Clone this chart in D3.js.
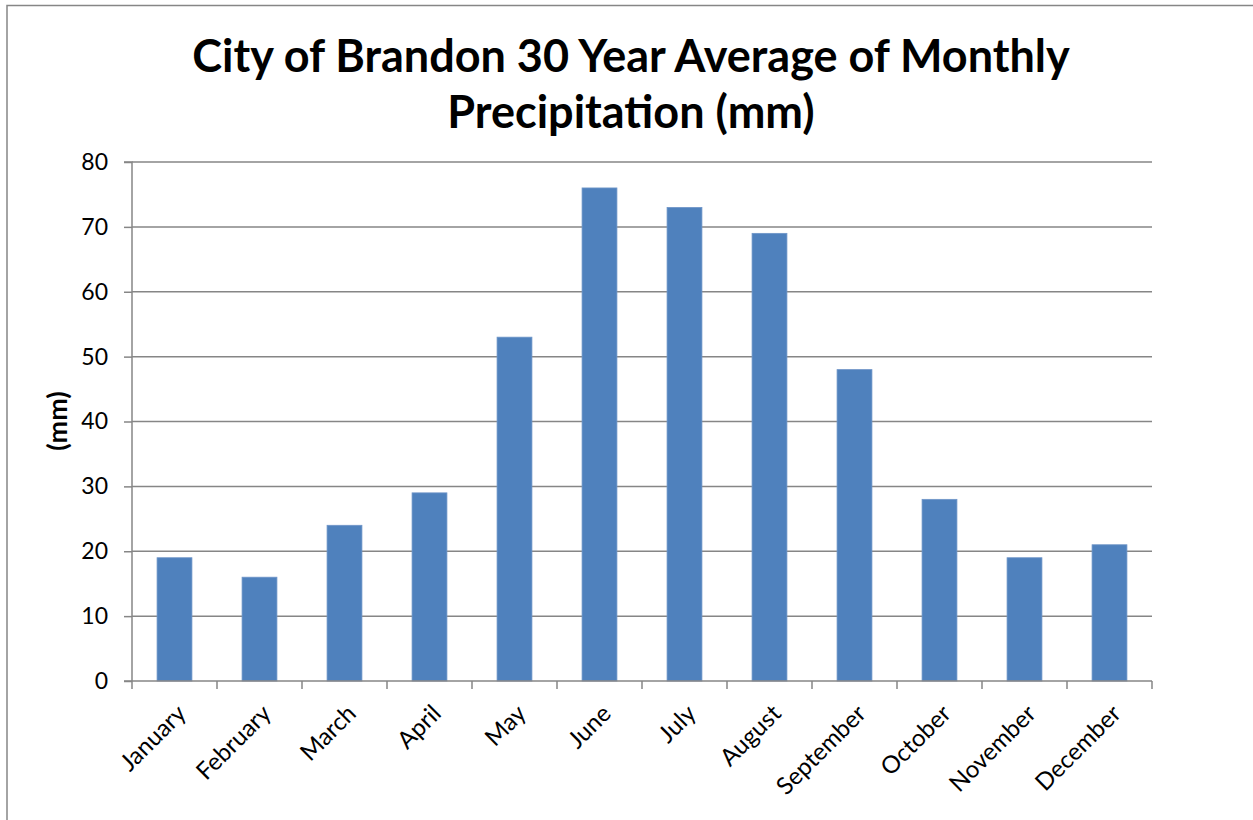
<!DOCTYPE html>
<html><head><meta charset="utf-8">
<script src="https://cdn.jsdelivr.net/npm/d3@7"></script>
<style>body{margin:0;background:#fff}svg{display:block}</style>
</head><body>
<script>
const months = ["January","February","March","April","May","June","July","August","September","October","November","December"];
const precip = [19,16,24,29,53,76,73,69,48,28,19,21];
const yTicks = [0,10,20,30,40,50,60,70,80];
const titleLines = ["City of Brandon 30 Year Average of Monthly","Precipitation (mm)"];
const yLabel = "(mm)";

const W = 1253, H = 820;
const font = "Lato, 'Open Sans', 'Liberation Sans', sans-serif";
const svg = d3.select("body").append("svg").attr("width", W).attr("height", H);
svg.append("rect").attr("width", W).attr("height", H).attr("fill", "#fff");
svg.append("rect").attr("x", 7).attr("y", 5.5).attr("width", W).attr("height", H)
  .attr("fill", "none").attr("stroke", "#868686").attr("stroke-width", 1.5);

const m = {l: 132, r: 1152, t: 162, b: 681};
const x = d3.scaleBand().domain(months).range([m.l, m.r]).paddingInner(0.59).paddingOuter(0.295);
const xb = d3.scaleBand().domain(months).range([m.l, m.r]);
const y = d3.scaleLinear().domain([0, 80]).range([m.b, m.t]);

// gridlines
svg.append("g").selectAll("line").data(yTicks.filter(d => d > 0)).join("line")
  .attr("x1", m.l).attr("x2", m.r).attr("y1", d => y(d)).attr("y2", d => y(d))
  .attr("stroke", "#868686").attr("stroke-width", 1.5);

// bars
svg.append("g").selectAll("rect").data(precip).join("rect")
  .attr("x", (d, i) => x(months[i])).attr("width", x.bandwidth())
  .attr("y", d => y(d)).attr("height", d => y(0) - y(d))
  .attr("fill", "#4F81BD").attr("stroke", "#6F95C8").attr("stroke-width", 0.8);

// y axis
const ya = d3.axisLeft(y).tickValues(yTicks).tickSize(8).tickPadding(16);
const gy = svg.append("g").attr("transform", `translate(${m.l},0)`).call(ya);
gy.select(".domain").attr("stroke", "#868686").attr("stroke-width", 1.5).attr("d", `M-8,${m.t}H0V${m.b}`);
gy.selectAll(".tick line").attr("stroke", "#868686").attr("stroke-width", 1.5);
gy.selectAll("text").attr("font-family", font).attr("font-size", 23).attr("fill", "#000");

// x axis
const gx = svg.append("g").attr("transform", `translate(0,${m.b})`);
gx.append("line").attr("x1", m.l - 8).attr("x2", m.r).attr("stroke", "#868686").attr("stroke-width", 1.5);
gx.selectAll(".tk").data([...months.map(d => xb(d)), m.r]).join("line")
  .attr("x1", d => d).attr("x2", d => d).attr("y1", 0).attr("y2", 8)
  .attr("stroke", "#868686").attr("stroke-width", 1.5);
gx.selectAll("text").data(months).join("text")
  .attr("transform", d => `translate(${xb(d) + xb.bandwidth()/2 + 13},${34}) rotate(-45)`)
  .attr("text-anchor", "end").attr("font-family", font).attr("font-size", 24).attr("fill", "#000")
  .text(d => d);

// title
svg.append("g").selectAll("text").data(titleLines).join("text")
  .attr("x", 631).attr("y", (d, i) => 72 + i * 56).attr("text-anchor", "middle")
  .attr("font-family", font).attr("font-weight", "bold").attr("font-size", 45).attr("fill", "#000")
  .text(d => d);

// y label
svg.append("text").attr("transform", "translate(67,421) rotate(-90)").attr("text-anchor", "middle")
  .attr("font-family", font).attr("font-weight", "bold").attr("font-size", 27).attr("fill", "#000")
  .text(yLabel);
</script>
</body></html>
